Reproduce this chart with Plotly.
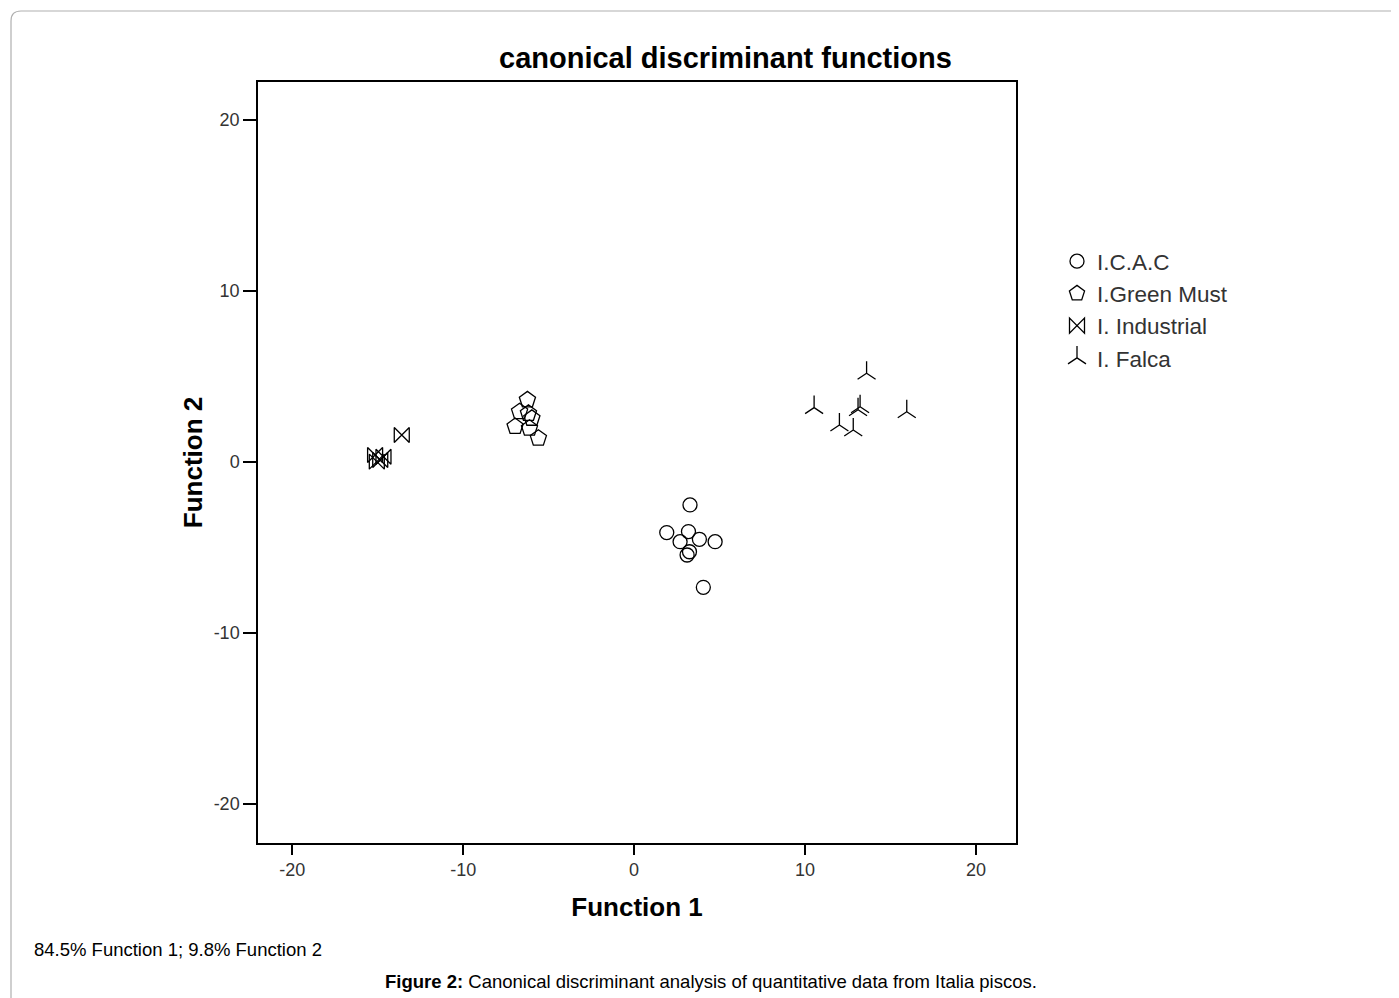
import plotly.graph_objects as go

# Data (Function 1, Function 2)
icac_f1 = [3.27, 1.91, 3.18, 2.69, 3.82, 4.74, 3.24, 3.10, 4.05]
icac_f2 = [-2.51, -4.13, -4.07, -4.66, -4.52, -4.66, -5.25, -5.44, -7.33]

green_f1 = [-6.24, -6.70, -6.18, -6.96, -6.12, -5.60, -5.98]
green_f2 = [3.63, 2.94, 2.84, 2.07, 1.97, 1.39, 2.55]

indus_f1 = [-13.59, -15.15, -14.85, -15.05, -14.66]
indus_f2 = [1.58, 0.41, 0.12, 0.02, 0.31]

falca_f1 = [13.60, 10.53, 13.22, 13.10, 15.95, 12.01, 12.82]
falca_f2 = [5.19, 3.18, 3.23, 3.05, 2.94, 2.16, 1.87]

group_names = ["I.C.A.C", "I.Green Must", "I. Industrial", "I. Falca"]
tick_vals = [-20, -10, 0, 10, 20]
tick_text = ["-20", "-10", "0", "10", "20"]

FONT = "Arial, Liberation Sans, sans-serif"

# page offset from the browser's default body margin
OFF = 8
W, H = 1399 - OFF, 998 - OFF
# plot box in page pixels
L, R, T, B = 258, 1016, 82, 843


def px(x):
    return (x - L) / (R - L)


def py(y):
    return (B - y) / (B - T)


fig = go.Figure()
specs = [
    (icac_f1, icac_f2, "circle-open", 14),
    (green_f1, green_f2, "pentagon-open", 17),
    (indus_f1, indus_f2, "bowtie-open", 15),
    (falca_f1, falca_f2, "y-up-open", 15),
]
for name, (xs, ys, sym, sz) in zip(group_names, specs):
    fig.add_trace(go.Scatter(
        x=xs, y=ys, mode="markers", name=name,
        marker=dict(symbol=sym, size=sz, color="black",
                    line=dict(color="black", width=1.3)),
    ))

axis_common = dict(
    tickvals=tick_vals, ticktext=tick_text, ticks="outside",
    tickwidth=1.5, tickcolor="black", showline=True, linecolor="black",
    linewidth=1.5, mirror=True, showgrid=False, zeroline=False,
    tickfont=dict(family=FONT, size=18, color="#333333"),
)
fig.update_xaxes(range=[-22.0, 22.34], ticklen=10,
                 title=dict(text="<b>Function 1</b>",
                            font=dict(family=FONT, size=26, color="black"),
                            standoff=18),
                 **axis_common)
fig.update_yaxes(range=[-22.28, 22.22], ticklen=13,
                 title=dict(text="<b>Function 2</b>",
                            font=dict(family=FONT, size=26, color="black"),
                            standoff=4),
                 **axis_common)

# Outer rounded frame
path = (f"M {px(11)},{py(1010)} L {px(11)},{py(21)} "
        f"Q {px(11)},{py(11)} {px(21)},{py(11)} L {px(1420)},{py(11)}")
fig.add_shape(type="path", path=path, xref="paper", yref="paper",
              line=dict(color="#b0b0b0", width=1.2))

fig.add_annotation(text="<b>canonical discriminant functions</b>",
                   x=px(725), y=py(58), xref="paper", yref="paper",
                   showarrow=False, xanchor="center", yanchor="middle",
                   font=dict(family=FONT, size=29, color="black"))
fig.add_annotation(text="84.5% Function 1; 9.8% Function 2",
                   x=px(32), y=py(950), xref="paper", yref="paper",
                   showarrow=False, xanchor="left", yanchor="middle",
                   font=dict(family=FONT, size=18.5, color="black"))
fig.add_annotation(text="<b>Figure 2:</b> Canonical discriminant analysis of quantitative data from Italia piscos.",
                   x=px(711), y=py(981), xref="paper", yref="paper",
                   showarrow=False, xanchor="center", yanchor="middle",
                   font=dict(family=FONT, size=18.5, color="black"))

fig.update_layout(
    width=W, height=H, autosize=False,
    margin=dict(l=L - OFF, r=W - (R - OFF), t=T - OFF, b=H - (B - OFF)),
    plot_bgcolor="white", paper_bgcolor="white",
    legend=dict(x=px(1057), y=py(240), xanchor="left", yanchor="top",
                font=dict(family=FONT, size=22.5, color="#333333"),
                bgcolor="rgba(0,0,0,0)", itemsizing="trace",
                tracegroupgap=0),
    showlegend=True,
)

fig.write_html("out.html")
